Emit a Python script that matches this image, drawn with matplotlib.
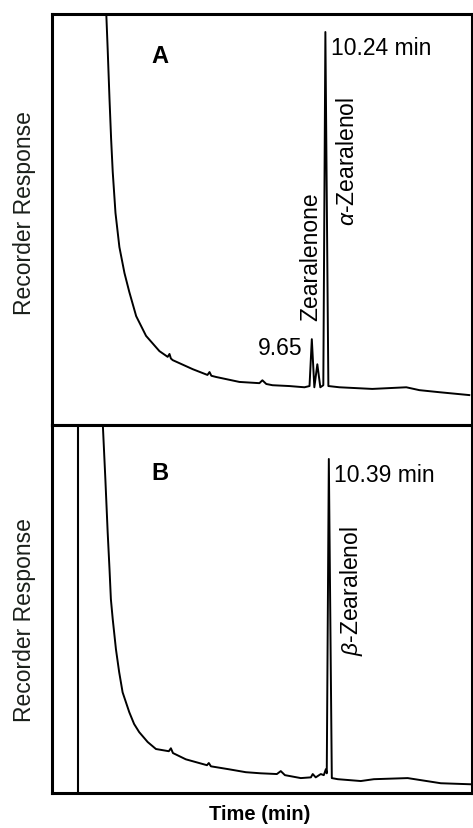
import matplotlib
matplotlib.use("Agg")
import matplotlib.pyplot as plt

plt.rcParams['font.family'] = ['Liberation Sans', 'DejaVu Sans']
plt.rcParams['mathtext.fontset'] = 'custom'
plt.rcParams['mathtext.rm'] = 'Liberation Sans'
plt.rcParams['mathtext.it'] = 'Liberation Sans:italic'

# Painel A - tempo (min) e resposta do registrador (unidades relativas)
time_a = [0.69, 0.71, 0.77, 0.85, 0.92, 0.99, 1.11, 1.28, 1.50, 1.71, 2.01, 2.44,
          3.02, 3.38, 3.46, 3.52, 3.60, 4.47, 5.11, 5.20, 5.28, 5.49, 6.50, 7.37,
          7.50, 7.67, 7.94, 8.67, 9.33, 9.55, 9.65, 9.76, 9.89, 10.02, 10.15,
          10.24, 10.37, 10.85, 12.28, 13.76, 14.33, 15.20, 16.50]
resp_a = [108.0, 100.0, 91.5, 79.3, 69.6, 61.6, 51.6, 43.3, 37.0, 32.4, 26.5, 21.7,
          18.0, 16.6, 17.3, 16.2, 15.8, 13.6, 12.2, 12.9, 12.0, 11.7, 10.5, 10.2,
          10.9, 10.0, 9.7, 9.5, 9.2, 9.5, 20.9, 9.2, 14.8, 9.2, 9.7,
          95.6, 9.5, 9.2, 8.8, 9.2, 8.5, 8.0, 7.3]

# Painel B
time_b = [0.53, 0.56, 0.67, 0.77, 0.85, 0.91, 0.99, 1.13, 1.27, 1.42, 1.71, 1.92,
          2.14, 2.51, 2.87, 3.43, 3.52, 3.61, 4.17, 5.09, 5.17, 5.26, 6.04, 6.78,
          7.43, 8.13, 8.30, 8.48, 9.17, 9.61, 9.69, 9.82, 10.04, 10.17, 10.26,
          10.30, 10.39, 10.52, 10.78, 11.78, 12.35, 13.82, 15.26, 16.65]
resp_b = [108.0, 100.0, 85.3, 70.9, 60.9, 52.7, 47.3, 39.1, 32.9, 27.4, 22.0, 18.8,
          16.6, 13.9, 12.0, 11.4, 12.2, 10.9, 9.2, 7.6, 8.2, 7.3, 6.5, 5.7,
          5.4, 5.2, 6.0, 4.9, 4.1, 4.3, 5.2, 4.3, 5.2, 4.9, 6.5,
          5.4, 90.8, 4.1, 3.8, 3.3, 3.8, 4.1, 2.7, 2.4]
injection_b = -0.52

# Picos identificados
peak_zea_t, peak_zea_r = 9.65, 20.9
peak_alpha_t, peak_alpha_r = 10.24, 95.6
peak_beta_t, peak_beta_r = 10.39, 90.8

fig = plt.figure(figsize=(4.73, 8.29), dpi=100)
ax_a = fig.add_axes([0.110, 0.486, 0.888, 0.496])
ax_b = fig.add_axes([0.110, 0.042, 0.888, 0.444])

fs = 16.5
for ax in (ax_a, ax_b):
    ax.set_xlim(-1.65, 16.62)
    ax.set_ylim(0, 100)
    ax.set_xticks([])
    ax.set_yticks([])
    for s in ax.spines.values():
        s.set_linewidth(2.2)
    ax.set_ylabel('Recorder Response', fontsize=fs, color='#1a1f1a')

ax_a.plot(time_a, resp_a, color='black', linewidth=1.4)
ax_b.plot(time_b, resp_b, color='black', linewidth=1.4)
ax_b.axvline(injection_b, color='black', linewidth=1.5)

ax_a.text(0.257, 0.898, 'A', transform=ax_a.transAxes, fontsize=17,
          fontweight='bold', ha='center', va='center')
ax_b.text(0.257, 0.872, 'B', transform=ax_b.transAxes, fontsize=17,
          fontweight='bold', ha='center', va='center')

# Rótulos do painel A
ax_a.annotate('10.24 min', (peak_alpha_t, peak_alpha_r), xytext=(4, -11),
              textcoords='offset points', ha='left', va='center', fontsize=fs)
ax_a.annotate(r'$\alpha$-Zearalenol', (peak_alpha_t, peak_alpha_r), xytext=(16, -46),
              textcoords='offset points', ha='center', va='top', rotation=90, fontsize=fs)
ax_a.annotate('Zearalenone', (peak_zea_t, peak_zea_r), xytext=(-1, 14),
              textcoords='offset points', ha='center', va='bottom', rotation=90, fontsize=fs)
ax_a.annotate('9.65', (peak_zea_t, peak_zea_r), xytext=(-7, -6),
              textcoords='offset points', ha='right', va='center', fontsize=fs)

# Rótulos do painel B
ax_b.annotate('10.39 min', (peak_beta_t, peak_beta_r), xytext=(4, -11),
              textcoords='offset points', ha='left', va='center', fontsize=fs)
ax_b.annotate(r'$\beta$-Zearalenol', (peak_beta_t, peak_beta_r), xytext=(16, -48),
              textcoords='offset points', ha='center', va='top', rotation=90, fontsize=fs)

ax_a.yaxis.set_label_coords(-0.038, 0.518)
ax_b.yaxis.set_label_coords(-0.038, 0.473)

ax_b.set_xlabel('Time (min)', fontsize=14.5, fontweight='bold')
ax_b.xaxis.set_label_coords(0.495, -0.03)

plt.savefig('out.png', dpi=100)
plt.close()
